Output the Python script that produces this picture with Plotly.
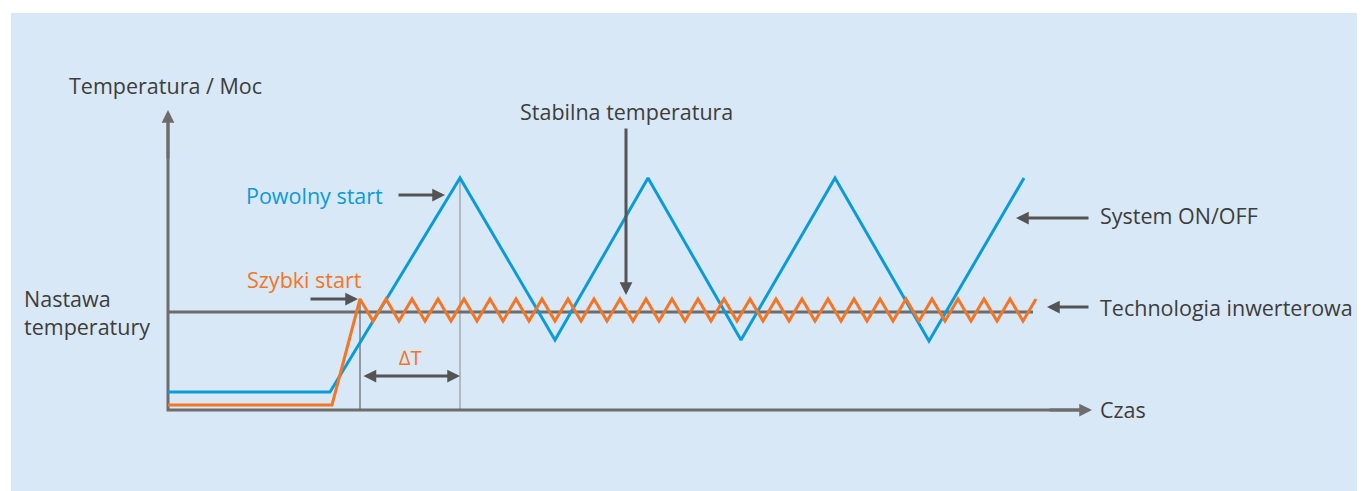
import plotly.graph_objects as go

# ---- data (time units along x, temperature/power units along y) ----
blue_t = [0, 162, 292, 387, 480, 573, 667, 761, 856]
blue_v = [18, 18, 232, 70, 232, 70, 232, 69, 232]

orange_t = [0, 164, 192, 205, 218, 231, 244, 257, 270, 283, 296, 309, 322, 335, 348,
            361, 374, 387, 400, 413, 426, 439, 452, 465, 478, 491, 504, 517, 530,
            543, 556, 569, 582, 595, 608, 621, 634, 647, 660, 673, 686, 699, 712,
            725, 738, 751, 764, 777, 790, 803, 816, 829, 842, 855, 868]
orange_v = [5, 5, 111, 89, 111, 89, 111, 89, 111, 89, 111, 89, 111, 89, 111,
            89, 111, 89, 111, 89, 111, 89, 111, 89, 111, 89, 111, 89, 111,
            89, 111, 89, 111, 89, 111, 89, 111, 89, 111, 89, 111, 89, 111,
            89, 111, 89, 111, 89, 111, 89, 111, 89, 111, 89, 111]

setpoint_t = [0, 865]
setpoint_v = [98, 98]

fast_peak_t = 192
fast_peak_v = 111
slow_peak_t = 292
slow_peak_v = 232

BLUE = "#0b9bd7"
ORANGE = "#f47524"
GRAY = "#6d6d6d"
DARK = "#545454"
TEXT = "#3d3d3d"
BG = "#d8e8f6"
FONT = "Open Sans"

fig = go.Figure()

# guide lines for delta T
fig.add_trace(go.Scatter(x=[fast_peak_t, fast_peak_t], y=[0, fast_peak_v], mode="lines",
                         line=dict(color="#4a4a4a", width=1), hoverinfo="skip"))
fig.add_trace(go.Scatter(x=[slow_peak_t, slow_peak_t], y=[0, slow_peak_v], mode="lines",
                         line=dict(color="#8a8a8a", width=1), hoverinfo="skip"))
# setpoint
fig.add_trace(go.Scatter(x=setpoint_t, y=setpoint_v, mode="lines",
                         line=dict(color=GRAY, width=3), hoverinfo="skip"))
# axes lines
fig.add_trace(go.Scatter(x=[0, 0, 915], y=[292, 0, 0], mode="lines",
                         line=dict(color=GRAY, width=3), hoverinfo="skip"))
# series
fig.add_trace(go.Scatter(x=blue_t, y=blue_v, mode="lines",
                         line=dict(color=BLUE, width=3), name="System ON/OFF"))
fig.add_trace(go.Scatter(x=orange_t, y=orange_v, mode="lines",
                         line=dict(color=ORANGE, width=3), name="Technologia inwerterowa"))

def arrow(tip_x, tip_y, tail_x, tail_y, both=False, color=DARK):
    fig.add_annotation(x=tip_x, y=tip_y, ax=tail_x, ay=tail_y, xref="x", yref="y",
                       axref="x", ayref="y", text="", showarrow=True, arrowhead=2,
                       arrowsize=0.85, arrowwidth=3, arrowcolor=color,
                       standoff=0, startstandoff=0,
                       arrowside="end+start" if both else "end",
                       startarrowhead=2, startarrowsize=0.85)

arrow(0, 300, 0, 250, color=GRAY)         # y axis
arrow(924, 0, 880, 0, color=GRAY)         # x axis
arrow(277, 215, 229, 215)                 # Powolny start
arrow(190, 111, 141, 111)                 # Szybki start
arrow(458, 115, 458, 283)                 # Stabilna temperatura
arrow(848, 192, 922, 192)                 # System ON/OFF
arrow(879, 103, 922, 103)                 # Technologia inwerterowa
arrow(292, 34, 194, 34, both=True)        # delta T

def label(x, y, text, color=TEXT, xanchor="left", size=21.5):
    fig.add_annotation(x=x, y=y, xref="x", yref="y", text=text, showarrow=False,
                       xanchor=xanchor, yanchor="middle",
                       font=dict(family=FONT, size=size, color=color))

label(-101, 324, "Temperatura / Moc")
label(458, 298, "Stabilna temperatura", xanchor="center")
label(217, 215, "Powolny start", color=BLUE, xanchor="right")
label(196, 131, "Szybki start", color=ORANGE, xanchor="right")
label(-146, 112, "Nastawa")
label(-146, 84, "temperatury")
label(930, 195, "System ON/OFF")
label(930, 103, "Technologia inwerterowa")
label(930, 1, "Czas")
label(242, 53, "∆T", color=ORANGE, xanchor="center", size=20)

# page body has an 8px margin: figure sits at (8, 8)
fig.update_layout(
    width=1357, height=483,
    margin=dict(l=0, r=0, t=0, b=0),
    paper_bgcolor="white", plot_bgcolor=BG,
    showlegend=False,
    xaxis=dict(domain=[3 / 1357, 1], range=[-157, 1197], visible=False, fixedrange=True),
    yaxis=dict(domain=[0, 478 / 483], range=[-81, 397], visible=False, fixedrange=True),
)

fig.write_html("out.html")
